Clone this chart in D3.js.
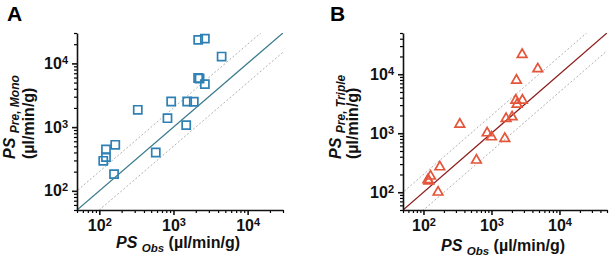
<!DOCTYPE html>
<html>
<head>
<meta charset="utf-8">
<script src="https://cdn.jsdelivr.net/npm/d3@7"></script>
<style>
  body { margin: 0; background: #fff; }
  svg text { font-family: Arial, "Liberation Sans", sans-serif; }
</style>
</head>
<body>
<svg id="chart" width="612" height="260"></svg>
<script>
// panel A: PS predicted by mono model vs observed
const obsMono = [2157, 2650, 4460, 2150, 2250, 2650, 931, 1530, 1880, 330, 830, 1485, 164, 123, 577, 123, 113, 158]
const preMono = [23400, 24500, 12800, 5900, 5800, 4730, 2520, 2520, 2500, 1870, 1380, 1075, 527, 445, 399, 338, 296, 183]

// panel B: PS predicted by triple model vs observed
const obsTriple = [2825, 4800, 2330, 2280, 2850, 2380, 1640, 2010, 342, 863, 1000, 1570, 601, 174, 127, 120, 116, 164]
const preTriple = [21600, 12300, 7900, 3620, 3620, 3090, 1770, 1890, 1420, 1010, 865, 813, 349, 268, 187, 155, 162, 100]

const majorTicks = [100, 1000, 10000]
const domainA = [50, 30000]
const domainB = [50, 50000]

const svg = d3.select('#chart')

function minorTicks(domain) {
    const out = []
    for (let p = 1; p <= 4; p++) {
        for (let m = 1; m <= 9; m++) {
            const v = m * Math.pow(10, p)
            if (v >= domain[0] && v <= domain[1] && m !== 1) out.push(v)
        }
    }
    return out
}

// turn "10000" into 10 with a superscript exponent
function powerLabel(sel) {
    sel.selectAll('.tick text').each(function(d) {
        const t = d3.select(this)
        t.text('')
        t.append('tspan').text('10')
        t.append('tspan')
            .attr('dy', '-0.45em')
            .style('font-size', '11px')
            .text(Math.round(Math.log10(d)))
    })
}

function drawPanel(opt) {
    const x = d3.scaleLog().domain(opt.domain).range([opt.left, opt.right])
    const y = d3.scaleLog().domain(opt.domain).range([opt.bottom, opt.top])
    const g = svg.append('g')

    // clip for reference lines
    g.append('clipPath').attr('id', 'clip' + opt.name)
        .append('rect')
        .attr('x', opt.left).attr('y', opt.top)
        .attr('width', opt.right - opt.left).attr('height', opt.bottom - opt.top)

    const lines = g.append('g').attr('clip-path', `url(#clip${opt.name})`)
    const d0 = opt.domain[0] / 4, d1 = opt.domain[1] * 4
    ;[2, 0.5].forEach(f => {
        lines.append('line')
            .attr('x1', x(d0)).attr('y1', y(d0 * f))
            .attr('x2', x(d1)).attr('y2', y(d1 * f))
            .attr('stroke', '#a8a8a8')
            .attr('stroke-width', 0.9)
            .attr('stroke-dasharray', '2,2')
    })
    lines.append('line')
        .attr('x1', x(d0)).attr('y1', y(d0))
        .attr('x2', x(d1)).attr('y2', y(d1))
        .attr('stroke', opt.lineColor)
        .attr('stroke-width', 1.3)

    // points
    g.selectAll('.pt')
        .data(opt.xs)
        .enter().append('path')
        .attr('class', 'pt')
        .attr('d', d3.symbol().type(opt.symbol).size(opt.symbolSize))
        .attr('transform', (d, i) => `translate(${x(d)},${y(opt.ys[i])})`)
        .attr('fill', 'none')
        .attr('stroke', opt.color)
        .attr('stroke-width', 1.7)

    // minor ticks
    g.append('g')
        .attr('transform', `translate(0,${opt.bottom})`)
        .call(d3.axisBottom(x).tickValues(minorTicks(opt.domain)).tickSize(3).tickFormat(''))
        .call(a => a.select('.domain').remove())
        .call(a => a.selectAll('line').attr('stroke-width', 1.2))
    g.append('g')
        .attr('transform', `translate(${opt.left},0)`)
        .call(d3.axisLeft(y).tickValues(minorTicks(opt.domain)).tickSize(3).tickFormat(''))
        .call(a => a.select('.domain').remove())
        .call(a => a.selectAll('line').attr('stroke-width', 1.2))

    // major axes
    g.append('g')
        .attr('transform', `translate(0,${opt.bottom})`)
        .call(d3.axisBottom(x).tickValues(majorTicks).tickSize(5).tickSizeOuter(0).tickPadding(5))
        .call(powerLabel)
        .call(a => a.selectAll('text').style('font-size', '16px').style('font-weight', 'bold').attr('fill', '#111'))
        .call(a => a.selectAll('line, path').attr('stroke-width', 1.6).attr('stroke', '#111'))
    g.append('g')
        .attr('transform', `translate(${opt.left},0)`)
        .call(d3.axisLeft(y).tickValues(majorTicks).tickSize(5).tickSizeOuter(0).tickPadding(4))
        .call(powerLabel)
        .call(a => a.selectAll('text').style('font-size', '16px').style('font-weight', 'bold').attr('fill', '#111'))
        .call(a => a.selectAll('line, path').attr('stroke-width', 1.6).attr('stroke', '#111'))

    // panel letter
    g.append('text')
        .attr('x', opt.letterX).attr('y', 21)
        .style('font-size', '21px').style('font-weight', 'bold')
        .text(opt.name)

    // x title
    const xt = g.append('text')
        .attr('x', (opt.left + opt.right) / 2 - 2).attr('y', opt.xTitleY)
        .attr('text-anchor', 'middle')
        .style('font-size', '16px').style('font-weight', 'bold').attr('fill', '#111')
    xt.append('tspan').style('font-style', 'italic').text('PS ')
    xt.append('tspan').style('font-style', 'italic').style('font-size', '11.5px').attr('dy', 4).text('Obs')
    xt.append('tspan').attr('dy', -4).text(' (µl/min/g)')

    // y title, two lines
    const yt1 = g.append('text')
        .attr('transform', `translate(${opt.yTitleX1},159) rotate(-90)`)
        .style('font-size', '16px').style('font-weight', 'bold').attr('fill', '#111')
    yt1.append('tspan').style('font-style', 'italic').text('PS ')
    yt1.append('tspan').style('font-style', 'italic').style('font-size', '12px').attr('dy', 4).text(opt.sub)
    g.append('text')
        .attr('transform', `translate(${opt.yTitleX2},159) rotate(-90)`)
        .style('font-size', '16px').style('font-weight', 'bold').attr('fill', '#111')
        .text('(µl/min/g)')
}

drawPanel({
    name: 'A', domain: domainA, left: 77, right: 283, top: 33, bottom: 210,
    xs: obsMono, ys: preMono, symbol: d3.symbolSquare, symbolSize: 66,
    color: '#2f80b5', lineColor: '#3c7b8c',
    letterX: 7, xTitleY: 248, yTitleX1: 15, yTitleX2: 34, sub: 'Pre, Mono'
})

drawPanel({
    name: 'B', domain: domainB, left: 403, right: 607, top: 33, bottom: 210,
    xs: obsTriple, ys: preTriple, symbol: d3.symbolTriangle, symbolSize: 40,
    color: '#e4553a', lineColor: '#8e1c1c',
    letterX: 330, xTitleY: 251, yTitleX1: 341, yTitleX2: 358, sub: 'Pre, Triple'
})
</script>
</body>
</html>
